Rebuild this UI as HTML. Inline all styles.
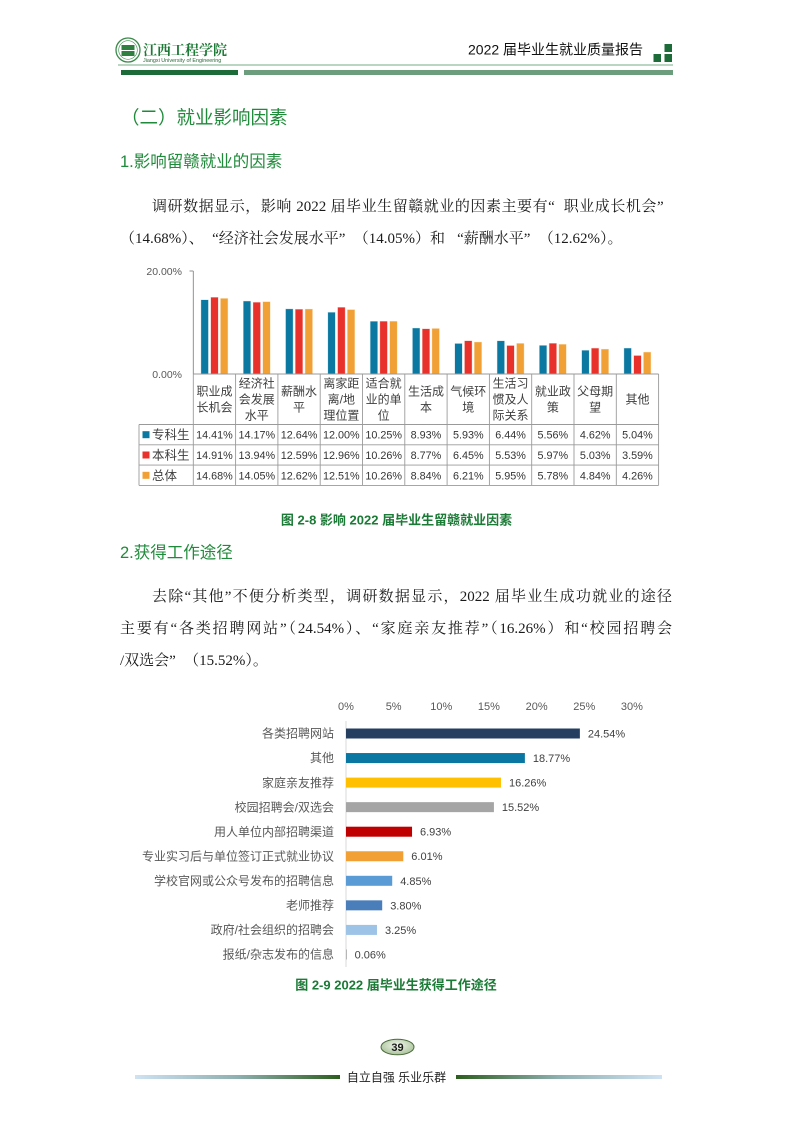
<!DOCTYPE html>
<html lang="zh-CN">
<head>
<meta charset="utf-8">
<style>
html,body{margin:0;padding:0;background:#fff;}
#page{position:relative;width:793px;height:1122px;overflow:hidden;background:#fff;}
svg{position:absolute;left:0;top:0;}
.h1{position:absolute;left:121px;top:106px;line-height:24px;font-size:18.5px;color:#1f8b3a;font-family:"Liberation Sans","Noto Sans CJK SC",sans-serif;white-space:nowrap;}
.h2{position:absolute;left:120px;line-height:22px;font-size:16.5px;color:#1f8b3a;font-family:"Liberation Sans","Noto Sans CJK SC",sans-serif;white-space:nowrap;}
.p{position:absolute;left:120px;width:552px;line-height:32px;height:32px;font-size:15px;color:#1a1a1a;font-family:"Liberation Serif","Noto Serif CJK SC",serif;overflow:hidden;}
.j{text-align:justify;text-align-last:justify;}
.ind{padding-left:32px;width:520px;}
.ql{display:inline-block;width:15px;text-align:right;}
.qr{display:inline-block;width:15px;text-align:left;}
</style>
</head>
<body>
<div id="page">
<svg width="793" height="1122" viewBox="0 0 793 1122" xmlns="http://www.w3.org/2000/svg">
  <defs>
    <linearGradient id="fl" x1="0" x2="1" y1="0" y2="0">
      <stop offset="0" stop-color="#cfe2f3"/>
      <stop offset="0.5" stop-color="#8fb0b0"/>
      <stop offset="1" stop-color="#2d5e1e"/>
    </linearGradient>
    <linearGradient id="fr" x1="0" x2="1" y1="0" y2="0">
      <stop offset="0" stop-color="#2d5e1e"/>
      <stop offset="0.5" stop-color="#8fb0b0"/>
      <stop offset="1" stop-color="#cfe2f3"/>
    </linearGradient>
    <radialGradient id="pg" cx="0.5" cy="0.4" r="0.6">
      <stop offset="0" stop-color="#f4f8ee"/>
      <stop offset="1" stop-color="#a9c29a"/>
    </radialGradient>
  </defs>

  <!-- Header -->
  <circle cx="128" cy="50" r="12" fill="#fff" stroke="#3a8a4a" stroke-width="1.3"/>
  <circle cx="128" cy="50" r="9.3" fill="none" stroke="#3a8a4a" stroke-width="0.6"/>
  <rect x="121.5" y="45" width="13" height="5" fill="#2f7f40"/>
  <rect x="121.5" y="51" width="13" height="5" fill="#2f7f40"/>
  <text x="143" y="55" font-family="Liberation Serif,'Noto Serif CJK SC',serif" font-size="14" font-weight="bold" fill="#1d7a36">江西工程学院</text>
  <text x="143" y="62" font-family="Liberation Sans,sans-serif" font-size="5.4" fill="#2a6a3a">Jiangxi University of Engineering</text>
  <text x="468" y="54.5" font-family="Liberation Sans,'Noto Sans CJK SC',sans-serif" font-size="14" fill="#111">2022 届毕业生就业质量报告</text>
  <rect x="664.5" y="44" width="7.5" height="8" fill="#1e6b3a"/>
  <rect x="653.5" y="54" width="7.5" height="8" fill="#1e6b3a"/>
  <rect x="664.5" y="54" width="7.5" height="8" fill="#1e6b3a"/>
  <rect x="118" y="64.3" width="555" height="1.4" fill="#9cc5a8"/>
  <rect x="121" y="70" width="117" height="5" fill="#1e6b3a"/>
  <rect x="244" y="70" width="429" height="5" fill="#6c9e7e"/>

  <!-- Chart 1 -->
  <g font-family="Liberation Sans,'Noto Sans CJK SC',sans-serif">
    <text x="182" y="275" font-size="10.5" fill="#595959" text-anchor="end">20.00%</text>
    <text x="182" y="378" font-size="10.5" fill="#595959" text-anchor="end">0.00%</text>
    <line x1="189.5" y1="271" x2="193.3" y2="271" stroke="#868686" stroke-width="0.9"/>
    <line x1="193.3" y1="271" x2="193.3" y2="374" stroke="#868686" stroke-width="0.9"/>

    <g fill="#0a78a0" stroke="#d6eaf2" stroke-width="0.4">
      <rect x="200.95" y="299.79" width="7.5" height="74.21"/>
      <rect x="243.25" y="301.02" width="7.5" height="72.98"/>
      <rect x="285.55" y="308.90" width="7.5" height="65.10"/>
      <rect x="327.85" y="312.20" width="7.5" height="61.80"/>
      <rect x="370.15" y="321.21" width="7.5" height="52.79"/>
      <rect x="412.45" y="328.01" width="7.5" height="45.99"/>
      <rect x="454.75" y="343.46" width="7.5" height="30.54"/>
      <rect x="497.05" y="340.83" width="7.5" height="33.17"/>
      <rect x="539.35" y="345.37" width="7.5" height="28.63"/>
      <rect x="581.65" y="350.21" width="7.5" height="23.79"/>
      <rect x="623.95" y="348.04" width="7.5" height="25.96"/>
    </g>
    <g fill="#e8312a" stroke="#f8d0cc" stroke-width="0.4">
      <rect x="210.7" y="297.21" width="7.5" height="76.79"/>
      <rect x="253.0" y="302.21" width="7.5" height="71.79"/>
      <rect x="295.3" y="309.16" width="7.5" height="64.84"/>
      <rect x="337.6" y="307.26" width="7.5" height="66.74"/>
      <rect x="379.9" y="321.16" width="7.5" height="52.84"/>
      <rect x="422.2" y="328.83" width="7.5" height="45.17"/>
      <rect x="464.5" y="340.78" width="7.5" height="33.22"/>
      <rect x="506.8" y="345.52" width="7.5" height="28.48"/>
      <rect x="549.1" y="343.25" width="7.5" height="30.75"/>
      <rect x="591.4" y="348.10" width="7.5" height="25.90"/>
      <rect x="633.7" y="355.51" width="7.5" height="18.49"/>
    </g>
    <g fill="#f0a035" stroke="#fbe4c4" stroke-width="0.4">
      <rect x="220.45" y="298.40" width="7.5" height="75.60"/>
      <rect x="262.75" y="301.64" width="7.5" height="72.36"/>
      <rect x="305.05" y="309.01" width="7.5" height="64.99"/>
      <rect x="347.35" y="309.57" width="7.5" height="64.43"/>
      <rect x="389.65" y="321.16" width="7.5" height="52.84"/>
      <rect x="431.95" y="328.47" width="7.5" height="45.53"/>
      <rect x="474.25" y="342.02" width="7.5" height="31.98"/>
      <rect x="516.55" y="343.36" width="7.5" height="30.64"/>
      <rect x="558.85" y="344.23" width="7.5" height="29.77"/>
      <rect x="601.15" y="349.07" width="7.5" height="24.93"/>
      <rect x="643.45" y="352.06" width="7.5" height="21.94"/>
    </g>

    <g stroke="#9a9a9a" stroke-width="0.9">
      <line x1="193.3" y1="374" x2="658.6" y2="374"/>
      <line x1="139" y1="424.5" x2="658.6" y2="424.5"/>
      <line x1="139" y1="444.8" x2="658.6" y2="444.8"/>
      <line x1="139" y1="465.1" x2="658.6" y2="465.1"/>
      <line x1="139" y1="485.4" x2="658.6" y2="485.4"/>
      <line x1="139" y1="424.5" x2="139" y2="485.4"/>
      <line x1="193.3" y1="374" x2="193.3" y2="485.4"/>
      <line x1="235.6" y1="374" x2="235.6" y2="485.4"/>
      <line x1="277.9" y1="374" x2="277.9" y2="485.4"/>
      <line x1="320.2" y1="374" x2="320.2" y2="485.4"/>
      <line x1="362.5" y1="374" x2="362.5" y2="485.4"/>
      <line x1="404.8" y1="374" x2="404.8" y2="485.4"/>
      <line x1="447.1" y1="374" x2="447.1" y2="485.4"/>
      <line x1="489.4" y1="374" x2="489.4" y2="485.4"/>
      <line x1="531.7" y1="374" x2="531.7" y2="485.4"/>
      <line x1="574.0" y1="374" x2="574.0" y2="485.4"/>
      <line x1="616.3" y1="374" x2="616.3" y2="485.4"/>
      <line x1="658.6" y1="374" x2="658.6" y2="485.4"/>
    </g>

    <g font-size="12" fill="#404040" text-anchor="middle">
      <text x="214.45" y="395.5">职业成</text><text x="214.45" y="411.5">长机会</text>
      <text x="256.75" y="387.5">经济社</text><text x="256.75" y="403.5">会发展</text><text x="256.75" y="419.5">水平</text>
      <text x="299.05" y="395.5">薪酬水</text><text x="299.05" y="411.5">平</text>
      <text x="341.35" y="387.5">离家距</text><text x="341.35" y="403.5">离/地</text><text x="341.35" y="419.5">理位置</text>
      <text x="383.65" y="387.5">适合就</text><text x="383.65" y="403.5">业的单</text><text x="383.65" y="419.5">位</text>
      <text x="425.95" y="395.5">生活成</text><text x="425.95" y="411.5">本</text>
      <text x="468.25" y="395.5">气候环</text><text x="468.25" y="411.5">境</text>
      <text x="510.55" y="387.5">生活习</text><text x="510.55" y="403.5">惯及人</text><text x="510.55" y="419.5">际关系</text>
      <text x="552.85" y="395.5">就业政</text><text x="552.85" y="411.5">策</text>
      <text x="595.15" y="395.5">父母期</text><text x="595.15" y="411.5">望</text>
      <text x="637.45" y="403.5">其他</text>
    </g>

    <rect x="142.5" y="431.2" width="7" height="7" fill="#0a78a0"/>
    <rect x="142.5" y="451.5" width="7" height="7" fill="#e8312a"/>
    <rect x="142.5" y="471.8" width="7" height="7" fill="#f0a035"/>
    <g font-size="12.5" fill="#404040">
      <text x="152" y="439.2">专科生</text>
      <text x="152" y="459.5">本科生</text>
      <text x="152" y="479.8">总体</text>
    </g>

    <g font-size="10.8" fill="#333" text-anchor="middle">
      <text x="214.45" y="438.6">14.41%</text><text x="256.75" y="438.6">14.17%</text><text x="299.05" y="438.6">12.64%</text><text x="341.35" y="438.6">12.00%</text><text x="383.65" y="438.6">10.25%</text><text x="425.95" y="438.6">8.93%</text><text x="468.25" y="438.6">5.93%</text><text x="510.55" y="438.6">6.44%</text><text x="552.85" y="438.6">5.56%</text><text x="595.15" y="438.6">4.62%</text><text x="637.45" y="438.6">5.04%</text>
      <text x="214.45" y="459">14.91%</text><text x="256.75" y="459">13.94%</text><text x="299.05" y="459">12.59%</text><text x="341.35" y="459">12.96%</text><text x="383.65" y="459">10.26%</text><text x="425.95" y="459">8.77%</text><text x="468.25" y="459">6.45%</text><text x="510.55" y="459">5.53%</text><text x="552.85" y="459">5.97%</text><text x="595.15" y="459">5.03%</text><text x="637.45" y="459">3.59%</text>
      <text x="214.45" y="479.3">14.68%</text><text x="256.75" y="479.3">14.05%</text><text x="299.05" y="479.3">12.62%</text><text x="341.35" y="479.3">12.51%</text><text x="383.65" y="479.3">10.26%</text><text x="425.95" y="479.3">8.84%</text><text x="468.25" y="479.3">6.21%</text><text x="510.55" y="479.3">5.95%</text><text x="552.85" y="479.3">5.78%</text><text x="595.15" y="479.3">4.84%</text><text x="637.45" y="479.3">4.26%</text>
    </g>

    <text x="396.5" y="524.5" font-size="13" font-weight="bold" fill="#1b7a36" text-anchor="middle">图 2-8 影响 2022 届毕业生留赣就业因素</text>
  </g>

  <!-- Chart 2 -->
  <g font-family="Liberation Sans,'Noto Sans CJK SC',sans-serif">
    <g font-size="11" fill="#595959" text-anchor="middle">
      <text x="346" y="710">0%</text>
      <text x="393.65" y="710">5%</text>
      <text x="441.3" y="710">10%</text>
      <text x="488.95" y="710">15%</text>
      <text x="536.6" y="710">20%</text>
      <text x="584.25" y="710">25%</text>
      <text x="631.9" y="710">30%</text>
    </g>
    <line x1="346" y1="721" x2="346" y2="967" stroke="#d9d9d9" stroke-width="1"/>
    <rect x="346" y="728.5" width="233.87" height="10" fill="#243f60"/>
    <rect x="346" y="753.05" width="178.88" height="10" fill="#0a76a2"/>
    <rect x="346" y="777.6" width="154.96" height="10" fill="#ffc000"/>
    <rect x="346" y="802.15" width="147.91" height="10" fill="#a5a5a5"/>
    <rect x="346" y="826.7" width="66.04" height="10" fill="#c00000"/>
    <rect x="346" y="851.25" width="57.28" height="10" fill="#f0a035"/>
    <rect x="346" y="875.8" width="46.22" height="10" fill="#5b9bd5"/>
    <rect x="346" y="900.35" width="36.21" height="10" fill="#4a7ebb"/>
    <rect x="346" y="924.9" width="30.97" height="10" fill="#9dc3e6"/>
    <rect x="346" y="949.45" width="0.57" height="10" fill="#7f7f7f"/>

    <g font-size="12" fill="#595959" text-anchor="end">
      <text x="334" y="737.7">各类招聘网站</text>
      <text x="334" y="762.2">其他</text>
      <text x="334" y="786.8">家庭亲友推荐</text>
      <text x="334" y="811.3">校园招聘会/双选会</text>
      <text x="334" y="835.9">用人单位内部招聘渠道</text>
      <text x="334" y="860.4">专业实习后与单位签订正式就业协议</text>
      <text x="334" y="885">学校官网或公众号发布的招聘信息</text>
      <text x="334" y="909.5">老师推荐</text>
      <text x="334" y="934.1">政府/社会组织的招聘会</text>
      <text x="334" y="958.6">报纸/杂志发布的信息</text>
    </g>
    <g font-size="11" fill="#404040">
      <text x="587.9" y="737.5">24.54%</text>
      <text x="532.9" y="762">18.77%</text>
      <text x="509.0" y="786.6">16.26%</text>
      <text x="501.9" y="811.1">15.52%</text>
      <text x="420.0" y="835.7">6.93%</text>
      <text x="411.3" y="860.2">6.01%</text>
      <text x="400.2" y="884.8">4.85%</text>
      <text x="390.2" y="909.3">3.80%</text>
      <text x="385.0" y="933.9">3.25%</text>
      <text x="354.6" y="958.4">0.06%</text>
    </g>
    <text x="396" y="989.5" font-size="13" font-weight="bold" fill="#1b7a36" text-anchor="middle">图 2-9 2022 届毕业生获得工作途径</text>
  </g>

  <!-- Footer -->
  <ellipse cx="397.5" cy="1047" rx="16.5" ry="7.8" fill="url(#pg)" stroke="#4a6a3a" stroke-width="1"/>
  <text x="397.5" y="1051" font-family="Liberation Sans,sans-serif" font-size="11" font-weight="bold" fill="#1a1a1a" text-anchor="middle">39</text>
  <rect x="135" y="1075" width="205" height="4" fill="url(#fl)"/>
  <rect x="456" y="1075" width="206" height="4" fill="url(#fr)"/>
  <text x="396.5" y="1081.5" font-family="Liberation Sans,'Noto Sans CJK SC',sans-serif" font-size="12" fill="#222" text-anchor="middle">自立自强 乐业乐群</text>
</svg>

<div class="h1">（二）就业影响因素</div>
<div class="h2" style="top:151px;">1.影响留赣就业的因素</div>

<div class="p j ind" style="top:191px;">调研数据显示，影响 2022 届毕业生留赣就业的因素主要有<span class="ql">“</span>职业成长机会<span class="qr">”</span></div>
<div class="p" style="top:223px;white-space:nowrap;">（14.68%）、<span class="ql">“</span>经济社会发展水平<span class="qr">”</span>（14.05%）和 <span class="ql">“</span>薪酬水平<span class="qr">”</span>（12.62%）。</div>

<div class="h2" style="top:542px;">2.获得工作途径</div>

<div class="p j ind" style="top:581px;">去除“其他”不便分析类型，调研数据显示，2022 届毕业生成功就业的途径</div>
<div class="p j" style="top:613px;">主要有“各类招聘网站”（24.54%）、“家庭亲友推荐”（16.26%）和“校园招聘会</div>
<div class="p" style="top:645px;white-space:nowrap;">/双选会<span class="qr">”</span>（15.52%）。</div>
</div>
</body>
</html>
